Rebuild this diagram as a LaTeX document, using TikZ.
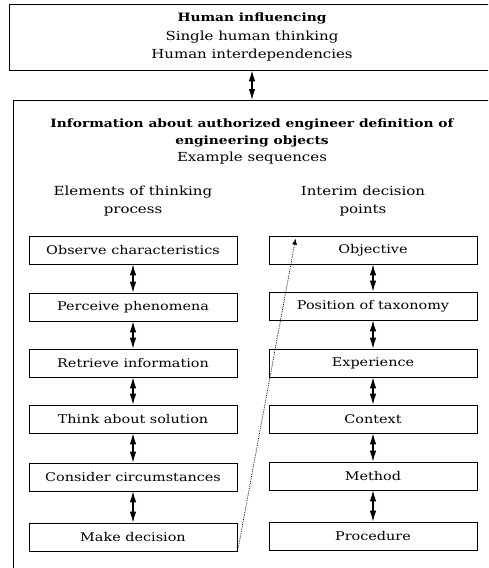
\documentclass[tikz,border=0pt]{standalone}
\usepackage{fontspec}
\setmainfont{DejaVu Serif}[FakeStretch=1.2]
\usetikzlibrary{arrows.meta,calc}
\newcommand\headfont{\fontsize{11.5}{16.5}\selectfont\bfseries}
\tikzset{
  stepbox/.style={draw, line width=0.7pt, minimum width=208pt, minimum height=28pt,
    inner sep=0pt, font=\fontsize{12}{14}\selectfont},
  dblarrow/.style={line width=1.1pt, {Latex[length=11pt,width=6.5pt]}-{Latex[length=11pt,width=6.5pt]}},
  hint/.style={densely dotted, line width=0.75pt, -{Latex[length=6pt,width=5pt]}},
  plain/.style={font=\fontsize{12.5}{18.5}\selectfont, align=center, inner sep=0pt},
}
\begin{document}
\begin{tikzpicture}[x=1pt,y=-1pt]
\clip (0,0) rectangle (488,568);
\fill[white] (0,0) rectangle (488,568);

% outer frames, cut by the page edge
\node[draw, line width=0.8pt, minimum width=486pt, minimum height=66pt, inner sep=0pt,
      plain] (human) at (252,37)
  {{\headfont Human influencing}\\Single human thinking\\Human interdependencies};
\draw[line width=0.8pt] (495,100) -- (13,100) -- (13,600);
\coordinate (infotop) at (252,100);

\node[plain, font=\fontsize{12.5}{17}\selectfont] (info) at (252,141)
  {{\headfont Information about authorized engineer definition of}\\
   {\headfont engineering objects}\\Example sequences};

\node[plain] (lefthead) at (133,201) {Elements of thinking\\process};
\node[plain] (righthead) at (363,201) {Interim decision\\points};

% thinking process column
\node[stepbox] (observe)   at (133,250) {Observe characteristics};
\node[stepbox] (perceive)  at (133,307) {Perceive phenomena};
\node[stepbox] (retrieve)  at (133,363) {Retrieve information};
\node[stepbox] (think)     at (133,419) {Think about solution};
\node[stepbox] (consider)  at (133,477) {Consider circumstances};
\node[stepbox] (decide)    at (133,537) {Make decision};

% decision point column
\node[stepbox] (objective)  at (373,250) {Objective};
\node[stepbox] (taxonomy)   at (373,306) {Position of taxonomy};
\node[stepbox] (experience) at (373,363) {Experience};
\node[stepbox] (context)    at (373,419) {Context};
\node[stepbox] (method)     at (373,476) {Method};
\node[stepbox] (procedure)  at (373,536) {Procedure};

\draw[dblarrow] (human.south) -- (infotop);

\draw[dblarrow] (observe) -- (perceive);
\draw[dblarrow] (perceive) -- (retrieve);
\draw[dblarrow] (retrieve) -- (think);
\draw[dblarrow] (think) -- (consider);
\draw[dblarrow] (consider) -- (decide);

\draw[dblarrow] (objective) -- (taxonomy);
\draw[dblarrow] (taxonomy) -- (experience);
\draw[dblarrow] (experience) -- (context);
\draw[dblarrow] (context) -- (method);
\draw[dblarrow] (method) -- (procedure);

\draw[hint] ($(decide.south east)+(1,-4)$) -- ($(objective.north west)+(27,3)$);
\end{tikzpicture}
\end{document}
